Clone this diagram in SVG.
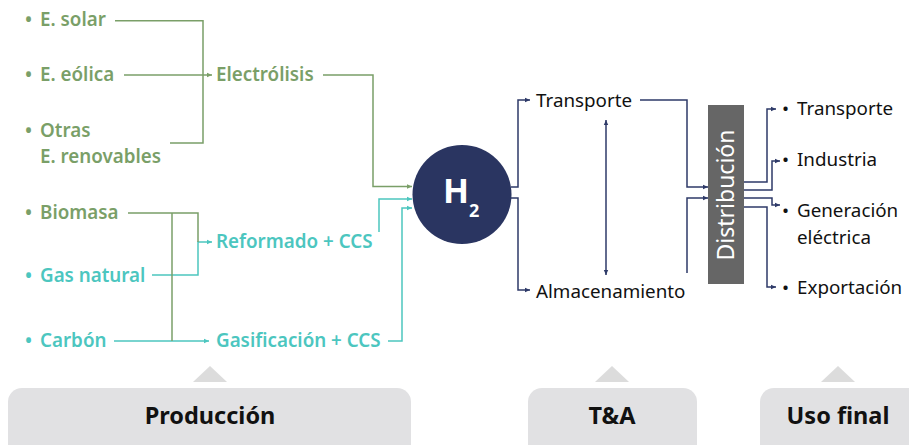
<svg xmlns="http://www.w3.org/2000/svg" width="909" height="445" viewBox="0 0 909 445">
<style>
.g{stroke:#7a9f68;fill:none;stroke-width:1.5}
.c{stroke:#4cc6bf;fill:none;stroke-width:1.5}
.n{stroke:#2e3a68;fill:none;stroke-width:1.5}
.tg{font-family:"Noto Sans",sans-serif;font-size:18.8px;font-weight:600;fill:#7a9f68}
.tc{font-family:"Noto Sans",sans-serif;font-size:18.8px;font-weight:600;fill:#4cc6bf}
.tn{font-family:"Noto Sans",sans-serif;font-size:18.8px;fill:#111}
.tb{font-family:"Noto Sans",sans-serif;font-size:23.5px;font-weight:bold;fill:#111;text-anchor:middle}
.box{fill:#e1e1e3}
.tri{fill:#dcdcdc}
</style>
<defs>
<marker id="ag" markerUnits="userSpaceOnUse" markerWidth="6" markerHeight="6" refX="5" refY="3" orient="auto"><path d="M0,0.8 L5,3 L0,5.2 z" fill="#7a9f68"/></marker>
<marker id="ac" markerUnits="userSpaceOnUse" markerWidth="6" markerHeight="6" refX="5" refY="3" orient="auto"><path d="M0,0.8 L5,3 L0,5.2 z" fill="#4cc6bf"/></marker>
<marker id="an" markerUnits="userSpaceOnUse" markerWidth="6" markerHeight="6" refX="5" refY="3" orient="auto-start-reverse"><path d="M0,0.8 L5,3 L0,5.2 z" fill="#2e3a68"/></marker>
</defs>

<g id="connectors">
<path class="g" d="M115,20.7 H203 V143 H170"/>
<path class="g" d="M124,75 H212" marker-end="url(#ag)"/>
<path class="g" d="M323,75 H373 V186.5 H412" marker-end="url(#ag)"/>
<path class="c" d="M152,275 H198 V242 H212" marker-end="url(#ac)"/>
<path class="g" d="M128,213 H198 V242"/>
<path class="c" d="M114,341 H209" marker-end="url(#ac)"/>
<path class="g" d="M172,213 V341"/>
<path class="c" d="M379,232 V199 H412" marker-end="url(#ac)"/>
<path class="c" d="M388,341 H402 V208 H412" marker-end="url(#ac)"/>
<path class="n" d="M511,187 H518 V100 H530" marker-end="url(#an)"/>
<path class="n" d="M511,198 H518 V290 H530" marker-end="url(#an)"/>
<path class="n" d="M606,120 V275" marker-start="url(#an)" marker-end="url(#an)"/>
<path class="n" d="M640,100 H687 V187 H708" marker-end="url(#an)"/>
<path class="n" d="M687,273 V198 H708" marker-end="url(#an)"/>
<path class="n" d="M744,182 H767 V109 H776" marker-end="url(#an)"/>
<path class="n" d="M744,190 H772 V161 H780" marker-end="url(#an)"/>
<path class="n" d="M744,198 H772 V205 H780" marker-end="url(#an)"/>
<path class="n" d="M744,207 H767 V287 H776" marker-end="url(#an)"/>
</g>

<g id="solar"><text class="tg" y="26"><tspan x="25">•</tspan><tspan x="40">E. solar</tspan></text></g>
<g id="eolica"><text class="tg" y="81"><tspan x="25">•</tspan><tspan x="40">E. eólica</tspan></text></g>
<g id="otras"><text class="tg" y="137"><tspan x="25">•</tspan><tspan x="40">Otras</tspan><tspan x="40" y="163">E. renovables</tspan></text></g>
<g id="electrolisis"><text class="tg" x="216" y="81">Electrólisis</text></g>
<g id="biomasa"><text class="tg" y="219"><tspan x="25">•</tspan><tspan x="40">Biomasa</tspan></text></g>
<g id="gasnatural"><text class="tc" y="282"><tspan x="25">•</tspan><tspan x="40">Gas natural</tspan></text></g>
<g id="carbon"><text class="tc" y="347"><tspan x="25">•</tspan><tspan x="40">Carbón</tspan></text></g>
<g id="reformado"><text class="tc" x="216" y="248">Reformado + CCS</text></g>
<g id="gasificacion"><text class="tc" x="216" y="347">Gasificación + CCS</text></g>

<g id="h2">
<circle cx="462" cy="194.5" r="49.5" fill="#2a3561"/>
<text x="443" y="203" font-family="Noto Sans, sans-serif" font-size="34" font-weight="bold" fill="#fff">H<tspan font-size="18" dy="14">2</tspan></text>
</g>

<g id="transporte"><text class="tn" x="536" y="107">Transporte</text></g>
<g id="almacenamiento"><text class="tn" x="536" y="298">Almacenamiento</text></g>

<g id="distribucion">
<rect x="708" y="105" width="36" height="179" fill="#666"/>
<text transform="translate(734,195) rotate(-90)" text-anchor="middle" font-family="Noto Sans, sans-serif" font-size="23" fill="#fff">Distribución</text>
</g>

<g id="u-transporte"><text class="tn" y="115"><tspan x="782">•</tspan><tspan x="797">Transporte</tspan></text></g>
<g id="u-industria"><text class="tn" y="166"><tspan x="782">•</tspan><tspan x="797">Industria</tspan></text></g>
<g id="u-generacion"><text class="tn" y="217"><tspan x="782">•</tspan><tspan x="797">Generación</tspan><tspan x="797" y="244">eléctrica</tspan></text></g>
<g id="u-exportacion"><text class="tn" y="294"><tspan x="782">•</tspan><tspan x="797">Exportación</tspan></text></g>

<g id="produccion">
<path class="tri" d="M193,382 L210,366 L227,382 z"/>
<rect class="box" x="8" y="388" width="403" height="80" rx="14"/>
<text class="tb" x="210" y="424">Producción</text>
</g>
<g id="ta">
<path class="tri" d="M595,382 L612,366 L629,382 z"/>
<rect class="box" x="528" y="388" width="169" height="80" rx="14"/>
<text class="tb" x="612" y="424">T&amp;A</text>
</g>
<g id="usofinal">
<path class="tri" d="M821,382 L838,366 L855,382 z"/>
<rect class="box" x="760" y="388" width="169" height="80" rx="14"/>
<text class="tb" x="838" y="424">Uso final</text>
</g>
</svg>
